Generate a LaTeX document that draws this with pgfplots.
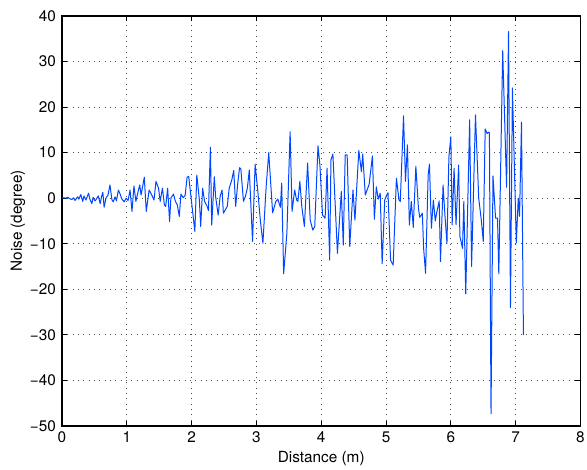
\documentclass[border=0pt]{standalone}
\usepackage{pgfplots}
\pgfplotsset{compat=1.18}
\usepackage{fontspec}
\setmainfont{TeX Gyre Heros}
\definecolor{trace}{RGB}{0,70,255}

% heading-noise trace along the travelled distance
\pgfplotstableread{
x y
0.00 0.0
0.03 0.1
0.06 0.0
0.09 0.2
0.12 -0.1
0.15 -0.3
0.18 0.1
0.20 -0.5
0.24 0.3
0.26 -0.2
0.29 0.8
0.32 -0.7
0.34 0.5
0.37 -0.4
0.41 1.1
0.43 -0.2
0.46 -1.2
0.48 0.2
0.51 -0.6
0.53 -0.2
0.56 0.5
0.59 -1.2
0.61 0.3
0.63 1.3
0.65 -2.0
0.68 0.1
0.71 0.7
0.74 2.9
0.77 -0.3
0.79 -0.8
0.82 0.3
0.84 -0.6
0.87 1.8
0.90 0.8
0.92 -0.1
0.96 -0.8
0.99 0.0
1.02 -0.5
1.05 1.8
1.08 -2.9
1.11 2.7
1.14 -0.7
1.18 1.8
1.20 2.9
1.22 0.7
1.27 4.6
1.30 -2.9
1.345 1.8
1.385 0.7
1.42 -0.4
1.45 3.7
1.49 2.2
1.515 -0.7
1.55 2.2
1.58 -1.5
1.60 -1.8
1.63 2.2
1.66 -5.1
1.68 0.0
1.72 0.9
1.75 -0.7
1.78 -1.5
1.81 -4.0
1.835 0.9
1.87 0.1
1.90 0.6
1.93 4.6
1.955 4.8
2.05 -7.3
2.08 5.1
2.12 -0.4
2.14 -6.2
2.17 2.2
2.20 -0.7
2.24 -1.8
2.26 -2.7
2.29 11.2
2.31 -5.9
2.35 4.7
2.37 0.4
2.41 -3.7
2.44 0.4
2.47 1.8
2.49 -3.3
2.55 -1.8
2.58 2.2
2.62 4.0
2.65 6.1
2.68 -1.8
2.71 3.0
2.74 6.7
2.76 6.4
2.80 -0.7
2.83 0.4
2.86 2.2
2.89 6.2
2.94 -9.5
2.98 7.5
3.02 1.8
3.06 -4.8
3.10 -9.9
3.15 2.5
3.19 10.0
3.25 -3.2
3.30 -0.7
3.33 -0.2
3.37 -2.0
3.39 3.3
3.42 -16.6
3.47 -7.7
3.52 14.6
3.55 -2.9
3.59 1.8
3.62 -0.4
3.64 -0.7
3.67 3.7
3.70 -1.8
3.74 -6.2
3.79 7.7
3.83 -4.8
3.87 -7.0
3.90 -6.2
3.95 11.5
3.98 7.2
4.02 -3.7
4.06 -4.4
4.09 6.6
4.13 -13.6
4.15 8.4
4.18 9.7
4.25 -12.1
4.31 1.5
4.34 -10.3
4.37 9.5
4.40 9.5
4.44 -10.6
4.49 1.8
4.52 -4.8
4.58 10.5
4.62 5.8
4.64 9.7
4.68 0.7
4.74 3.1
4.79 9.3
4.82 -4.6
4.85 2.5
4.88 -0.2
4.91 1.1
4.94 -14.4
4.98 -0.4
5.01 0.7
5.03 1.2
5.07 -13.6
5.11 -14.7
5.16 4.4
5.20 -0.4
5.22 -0.7
5.27 18.1
5.30 3.7
5.33 11.7
5.36 -5.9
5.39 -0.7
5.42 -6.4
5.46 7.0
5.50 -2.2
5.52 -4.2
5.56 -3.3
5.58 -11.0
5.61 -16.5
5.65 5.1
5.67 7.5
5.70 -6.6
5.73 -0.4
5.76 -5.0
5.78 -3.3
5.82 -0.6
5.84 -13.9
5.88 2.9
5.91 -4.0
5.94 -9.9
5.97 9.1
6.00 13.5
6.02 -5.9
6.05 6.6
6.08 -5.8
6.12 7.3
6.14 -8.4
6.18 -11.0
6.20 -0.7
6.23 -21.0
6.29 17.2
6.32 -15.0
6.38 18.3
6.43 0.0
6.47 -4.8
6.50 -9.5
6.53 15.2
6.56 14.2
6.58 14.5
6.595 14.4
6.62 -47.3
6.65 4.9
6.69 -4.4
6.72 -4.4
6.74 -16.6
6.80 32.4
6.86 2.4
6.89 36.6
6.92 -24.0
6.95 24.2
7.01 -9.8
7.04 0.0
7.06 -4.0
7.09 16.7
7.12 -30.0
}\noisedata

\begin{document}
\begin{tikzpicture}
\begin{axis}[
  name=ax,
  scale only axis,
  width=388.9pt, height=307.5pt,
  xmin=0, xmax=8, ymin=-50, ymax=40,
  xtick={0,1,...,8},
  ytick={-50,-40,-30,-20,-10,0,10,20,30,40},
  yticklabels={−50,−40,−30,−20,−10,0,10,20,30,40},
  grid=major,
  major grid style={dash pattern=on 0.7pt off 3.3pt, line width=0.6pt, black!70},
  tick align=inside, tick pos=both,
  major tick length=4pt,
  tick style={black, line width=0.6pt},
  axis line style={black, line width=0.9pt},
  /pgf/number format/assume math mode=true,
  ticklabel style={font=\fontsize{11.5}{13}\selectfont},
  xticklabel style={yshift=-1pt},
  yticklabel style={xshift=-1pt},
  label style={font=\fontsize{11.5}{13}\selectfont},
  xlabel={Distance (m)},
  ylabel={Noise (degree)},
  xlabel style={at={(axis description cs:0.5,-0.08)}, anchor=center},
  ylabel style={at={(axis description cs:-0.085,0.5)}, anchor=center},
]
\addplot[trace, line width=0.75pt, line join=round] table[x=x, y=y] {\noisedata};
\end{axis}
\pgfresetboundingbox
\path ([shift={(-46.5pt,-33pt)}]ax.south west) rectangle ([shift={(4.9pt,12pt)}]ax.north east);
\end{tikzpicture}
\end{document}
